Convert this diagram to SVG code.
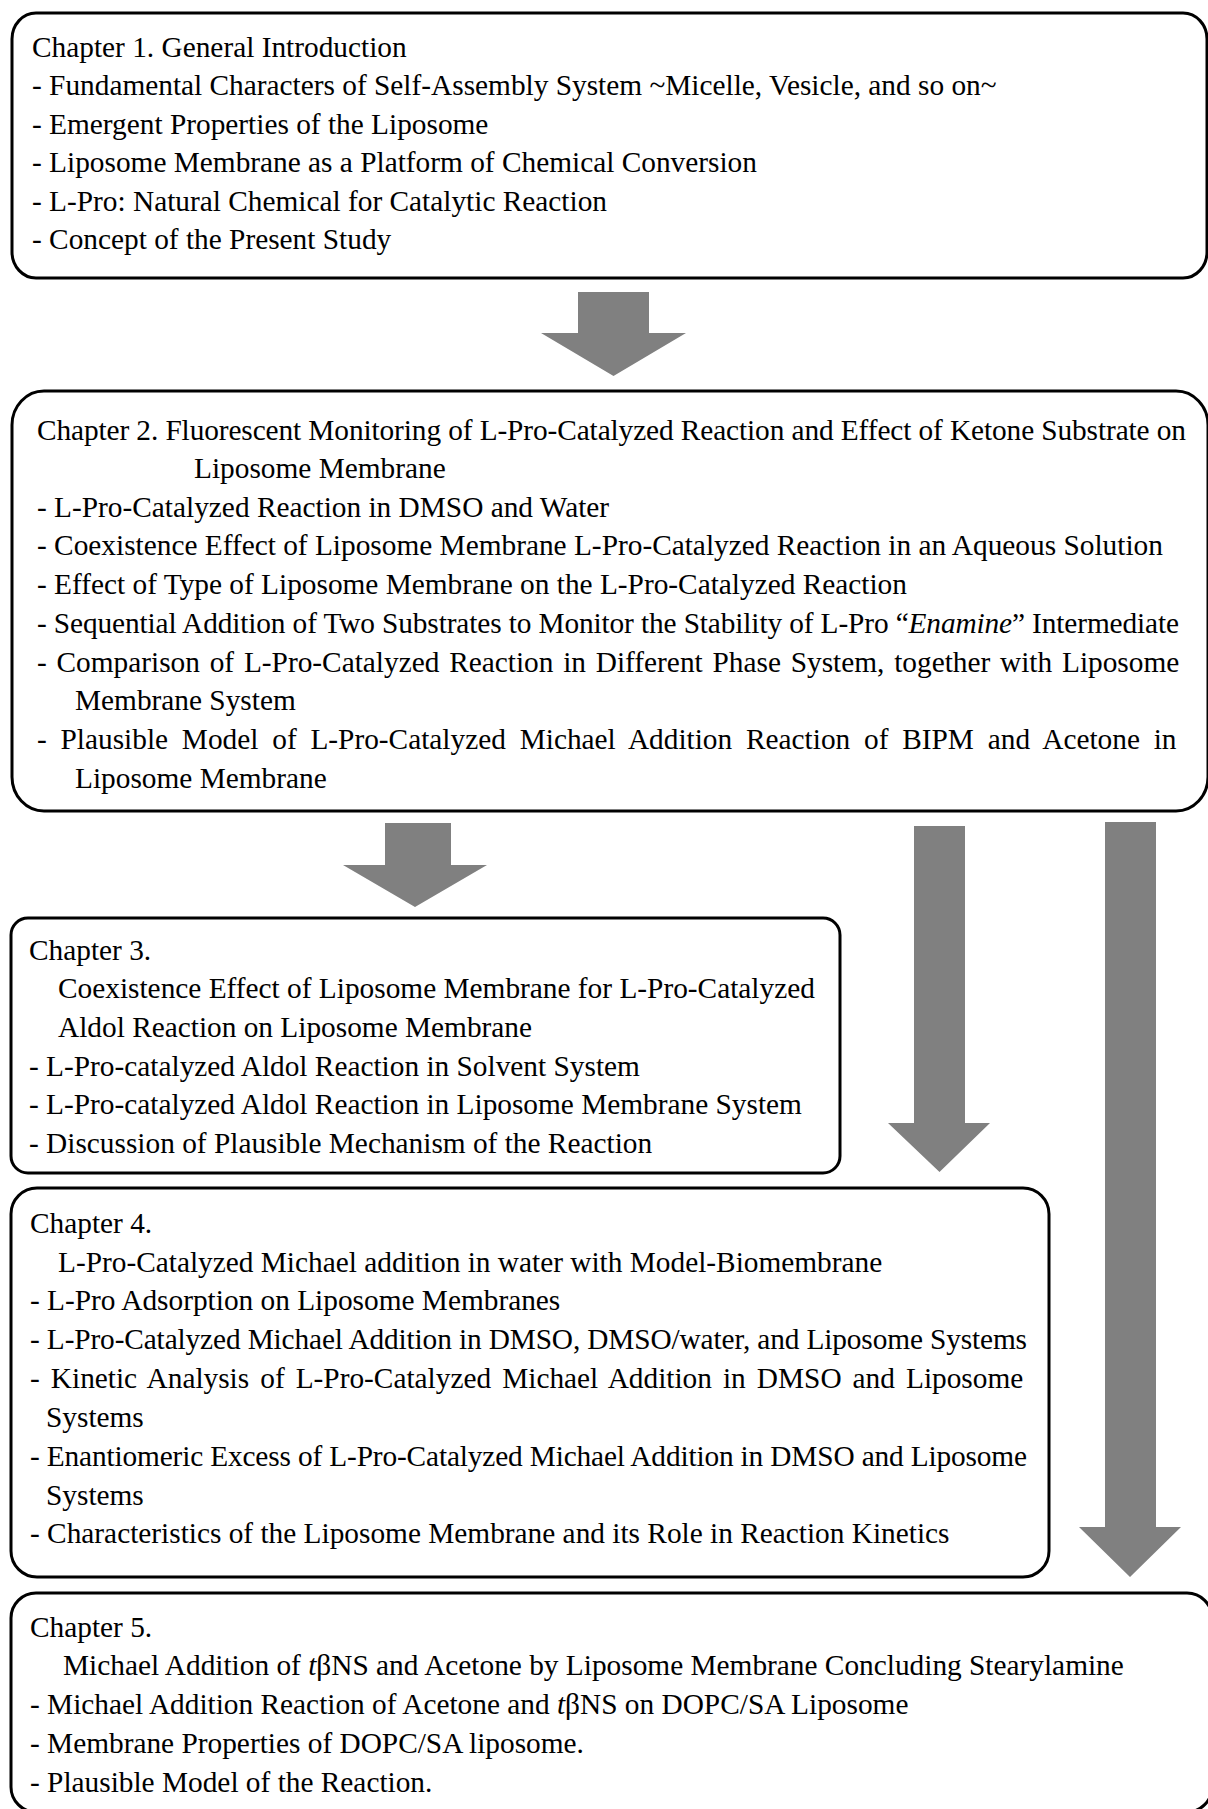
<svg xmlns="http://www.w3.org/2000/svg" width="1208" height="1809" viewBox="0 0 1208 1809">
<style>
.box{fill:#fff;stroke:#000;stroke-width:3}
text{font-family:"Liberation Serif","Times New Roman",serif;font-size:29.33px;fill:#000}
.it{font-style:italic}
.arr{fill:#808080;stroke:none}
</style>
<rect width="1208" height="1809" fill="#fff"/>
<g id="connectors">
<polygon class="arr" points="578,292 649,292 649,333 686,333 613.5,376 541,333 578,333"/>
<polygon class="arr" points="385,823 451,823 451,865 487,865 415,907 343,865 385,865"/>
<polygon class="arr" points="914,826 965,826 965,1123 990,1123 939.5,1172 888,1123 914,1123"/>
<polygon class="arr" points="1105,822 1156,822 1156,1527 1181,1527 1130,1577 1079,1527 1105,1527"/>
</g>
<g id="chapter1">
<rect class="box" x="12" y="13" width="1195" height="265" rx="24" ry="26"/>
<text x="32" y="57">Chapter 1. General Introduction</text>
<text x="32" y="95">- Fundamental Characters of Self-Assembly System ~Micelle, Vesicle, and so on~</text>
<text x="32" y="134">- Emergent Properties of the Liposome</text>
<text x="32" y="172">- Liposome Membrane as a Platform of Chemical Conversion</text>
<text x="32" y="211">- L-Pro: Natural Chemical for Catalytic Reaction</text>
<text x="32" y="249">- Concept of the Present Study</text>
</g>
<g id="chapter2">
<rect class="box" x="12" y="391" width="1196" height="420" rx="32" ry="34"/>
<text x="37" y="440" textLength="1149" lengthAdjust="spacing">Chapter 2. Fluorescent Monitoring of L-Pro-Catalyzed Reaction and Effect of Ketone Substrate on</text>
<text x="194" y="478">Liposome Membrane</text>
<text x="37" y="517">- L-Pro-Catalyzed Reaction in DMSO and Water</text>
<text x="37" y="555">- Coexistence Effect of Liposome Membrane L-Pro-Catalyzed Reaction in an Aqueous Solution</text>
<text x="37" y="594">- Effect of Type of Liposome Membrane on the L-Pro-Catalyzed Reaction</text>
<text x="37" y="633" textLength="1142" lengthAdjust="spacing">- Sequential Addition of Two Substrates to Monitor the Stability of L-Pro “<tspan class="it">Enamine</tspan>” Intermediate</text>
<text x="37" y="672" word-spacing="2.45">- Comparison of L-Pro-Catalyzed Reaction in Different Phase System, together with Liposome</text>
<text x="75" y="710">Membrane System</text>
<text x="37" y="749" word-spacing="6.45">- Plausible Model of L-Pro-Catalyzed Michael Addition Reaction of BIPM and Acetone in</text>
<text x="75" y="788">Liposome Membrane</text>
</g>
<g id="chapter3">
<rect class="box" x="11" y="918" width="829" height="255" rx="17" ry="17"/>
<text x="29" y="960">Chapter 3.</text>
<text x="58" y="998">Coexistence Effect of Liposome Membrane for L-Pro-Catalyzed</text>
<text x="58" y="1037">Aldol Reaction on Liposome Membrane</text>
<text x="29" y="1076">- L-Pro-catalyzed Aldol Reaction in Solvent System</text>
<text x="29" y="1114">- L-Pro-catalyzed Aldol Reaction in Liposome Membrane System</text>
<text x="29" y="1153">- Discussion of Plausible Mechanism of the Reaction</text>
</g>
<g id="chapter4">
<rect class="box" x="11" y="1188" width="1038" height="389" rx="26" ry="26"/>
<text x="30" y="1233">Chapter 4.</text>
<text x="58" y="1272">L-Pro-Catalyzed Michael addition in water with Model-Biomembrane</text>
<text x="30" y="1310">- L-Pro Adsorption on Liposome Membranes</text>
<text x="30" y="1349" textLength="997" lengthAdjust="spacing">- L-Pro-Catalyzed Michael Addition in DMSO, DMSO/water, and Liposome Systems</text>
<text x="30" y="1388" word-spacing="3.7">- Kinetic Analysis of L-Pro-Catalyzed Michael Addition in DMSO and Liposome</text>
<text x="46" y="1427">Systems</text>
<text x="30" y="1466" textLength="997" lengthAdjust="spacing">- Enantiomeric Excess of L-Pro-Catalyzed Michael Addition in DMSO and Liposome</text>
<text x="46" y="1505">Systems</text>
<text x="30" y="1543">- Characteristics of the Liposome Membrane and its Role in Reaction Kinetics</text>
</g>
<g id="chapter5">
<rect class="box" x="11" y="1593" width="1201" height="219" rx="25" ry="25"/>
<text x="30" y="1637">Chapter 5.</text>
<text x="63" y="1675">Michael Addition of <tspan class="it">t</tspan>βNS and Acetone by Liposome Membrane Concluding Stearylamine</text>
<text x="30" y="1714">- Michael Addition Reaction of Acetone and <tspan class="it">t</tspan>βNS on DOPC/SA Liposome</text>
<text x="30" y="1753">- Membrane Properties of DOPC/SA liposome.</text>
<text x="30" y="1792">- Plausible Model of the Reaction.</text>
</g>
</svg>
